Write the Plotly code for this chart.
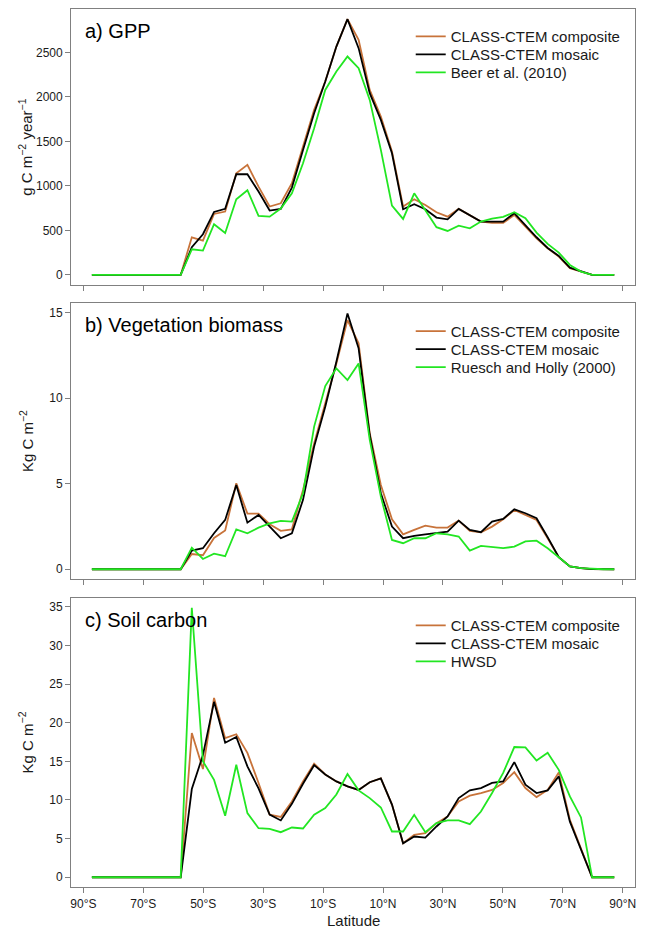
import plotly.graph_objects as go

# Gaussian-grid latitudes (south to north), degrees
LAT_N = [1.856, 5.567, 9.278, 12.989, 16.700, 20.411, 24.122, 27.833, 31.545, 35.256,
         38.967, 42.678, 46.389, 50.099, 53.810, 57.521, 61.232, 64.942, 68.652, 72.362,
         76.070, 79.777, 83.479, 87.159]
LAT = [-v for v in reversed(LAT_N)] + LAT_N

gpp_composite = [0, 0, 0, 0, 0, 0, 0, 0, 0, 423, 386, 685, 712, 1142, 1236, 992, 768, 805, 1030,
                 1442, 1854, 2172, 2565, 2872, 2640, 2078, 1779, 1386, 768, 850, 786, 704, 655,
                 742, 674, 599, 584, 584, 674, 543, 412, 300, 206, 75, 37, 0, 0, 0]
gpp_mosaic = [0, 0, 0, 0, 0, 0, 0, 0, 0, 311, 457, 708, 742, 1131, 1131, 936, 723, 742, 981,
              1404, 1816, 2172, 2565, 2872, 2547, 2041, 1741, 1367, 738, 794, 738, 644, 625,
              742, 674, 599, 599, 599, 693, 554, 423, 303, 213, 82, 37, 0, 0, 0]
gpp_beer = [0, 0, 0, 0, 0, 0, 0, 0, 0, 288, 273, 569, 472, 850, 951, 663, 655, 745, 917,
            1255, 1648, 2078, 2284, 2453, 2322, 1966, 1404, 779, 629, 917, 730, 536, 494,
            554, 524, 599, 633, 652, 704, 637, 476, 348, 251, 112, 37, 0, 0, 0]

veg_composite = [0, 0, 0, 0, 0, 0, 0, 0, 0, 0.89, 0.82, 1.83, 2.26, 5.02, 3.25, 3.25, 2.63, 2.24,
                 2.33, 4.63, 7.35, 9.69, 12.02, 14.55, 13.19, 7.94, 4.92, 2.92, 2.04, 2.30, 2.55,
                 2.43, 2.43, 2.84, 2.24, 2.16, 2.49, 2.92, 3.46, 3.17, 2.88, 1.81, 0.70, 0.16,
                 0.06, 0.01, 0, 0]
veg_mosaic = [0, 0, 0, 0, 0, 0, 0, 0, 0, 1.09, 1.23, 2.10, 2.88, 4.92, 2.72, 3.17, 2.49, 1.81,
              2.10, 4.05, 7.16, 9.49, 12.12, 14.94, 12.90, 7.84, 4.44, 2.49, 1.81, 1.95, 2.04,
              2.14, 2.20, 2.84, 2.30, 2.16, 2.78, 2.94, 3.50, 3.27, 2.98, 1.87, 0.70, 0.16,
              0.06, 0.01, 0, 0]
veg_ruesch = [0, 0, 0, 0, 0, 0, 0, 0, 0, 1.26, 0.60, 0.91, 0.76, 2.33, 2.10, 2.43, 2.68, 2.82,
              2.78, 4.44, 8.33, 10.70, 11.73, 11.05, 12.02, 7.55, 4.24, 1.71, 1.52, 1.81, 1.81,
              2.10, 2.04, 1.91, 1.09, 1.36, 1.30, 1.23, 1.32, 1.63, 1.67, 1.23, 0.70, 0.16,
              0.06, 0.01, 0, 0]

soil_composite = [0, 0, 0, 0, 0, 0, 0, 0, 0, 18.67, 14.0, 23.2, 18.0, 18.5, 16.1, 12.2, 8.1, 7.8,
                  9.8, 12.4, 14.7, 13.3, 12.4, 11.75, 11.3, 12.3, 12.8, 9.4, 4.4, 5.5, 5.7, 7.0,
                  7.87, 9.8, 10.55, 10.9, 11.3, 12.2, 13.6, 11.54, 10.37, 11.3, 13.57, 7.43,
                  3.76, 0, 0, 0]
soil_mosaic = [0, 0, 0, 0, 0, 0, 0, 0, 0, 11.41, 15.8, 22.7, 17.4, 18.15, 14.35, 11.5, 8.1, 7.35,
               9.5, 12.1, 14.5, 13.3, 12.4, 11.75, 11.3, 12.3, 12.8, 9.4, 4.4, 5.27, 5.14, 6.57,
               7.87, 10.24, 11.24, 11.54, 12.2, 12.4, 14.9, 11.97, 10.9, 11.24, 13.05, 7.2,
               3.54, 0, 0, 0]
soil_hwsd = [0, 0, 0, 0, 0, 0, 0, 0, 0, 34.87, 15.0, 12.6, 7.95, 14.56, 8.3, 6.35, 6.27, 5.83,
             6.44, 6.31, 8.08, 8.95, 10.7, 13.35, 11.24, 10.24, 9.03, 5.92, 5.92, 8.08, 5.83, 7.0,
             7.35, 7.35, 6.87, 8.51, 10.9, 13.5, 16.85, 16.8, 15.1, 16.1, 13.9, 10.46, 7.74,
             0, 0, 0]

x_tickvals = [-90, -70, -50, -30, -10, 10, 30, 50, 70, 90]
x_ticktext = ["90°S", "70°S", "50°S", "30°S", "10°S", "10°N", "30°N", "50°N", "70°N", "90°N"]

panel_titles = ["a) GPP", "b) Vegetation biomass", "c) Soil carbon"]
y_titles = ["g C m<sup>−2</sup> year<sup>−1</sup>", "Kg C m<sup>−2</sup>", "Kg C m<sup>−2</sup>"]
y_tickvals = [[0, 500, 1000, 1500, 2000, 2500], [0, 5, 10, 15], [0, 5, 10, 15, 20, 25, 30, 35]]
y_ranges = [[-113, 2990], [-0.57, 15.53], [-1.3, 36.17]]
series_names = [["CLASS-CTEM composite", "CLASS-CTEM mosaic", "Beer et al. (2010)"],
                ["CLASS-CTEM composite", "CLASS-CTEM mosaic", "Ruesch and Holly (2000)"],
                ["CLASS-CTEM composite", "CLASS-CTEM mosaic", "HWSD"]]
panel_data = [[gpp_composite, gpp_mosaic, gpp_beer],
              [veg_composite, veg_mosaic, veg_ruesch],
              [soil_composite, soil_mosaic, soil_hwsd]]
colors = ["#C8733A", "#000000", "#22E622"]

W, H = 645, 930
FONT = "Liberation Sans, Arial, Helvetica, sans-serif"
TXT = "#1a1a1a"
FRAME = "#808080"

# panel pixel boxes (top, bottom) and horizontal extent
panels_px = [(8.7, 285.0), (303.3, 579.0), (597.7, 887.3)]
left_px, right_px = 70.3, 636.0


def py(p):
    return 1 - p / H


def px(p):
    return p / W


fig = go.Figure()
layout = dict(
    width=W, height=H, margin=dict(l=0, r=0, t=0, b=0),
    paper_bgcolor="white", plot_bgcolor="white",
    font=dict(family=FONT, color=TXT),
    annotations=[],
)

leg_idx = 0
for k in range(3):
    top, bot = panels_px[k]
    sfx = "" if k == 0 else str(k + 1)
    for j in range(3):
        leg_idx += 1
        lname = "legend" if leg_idx == 1 else f"legend{leg_idx}"
        fig.add_trace(go.Scatter(
            x=LAT, y=panel_data[k][j], mode="lines", name=series_names[k][j],
            line=dict(color=colors[j], width=1.8),
            xaxis="x" + sfx, yaxis="y" + sfx, legend=lname, showlegend=True,
        ))
        layout[lname] = dict(
            x=px(411), xanchor="left", y=py(top + 28 + 18 * j), yanchor="middle",
            bgcolor="rgba(0,0,0,0)", borderwidth=0,
            font=dict(family=FONT, size=15, color=TXT),
        )
    layout["xaxis" + sfx] = dict(
        domain=[px(left_px), px(right_px)], range=[-94.1, 94.1], anchor="y" + sfx,
        tickmode="array", tickvals=x_tickvals, ticktext=x_ticktext,
        showticklabels=(k == 2), ticks="outside", ticklen=5, tickcolor=FRAME, tickwidth=1,
        showline=True, linecolor=FRAME, linewidth=1, mirror=True,
        showgrid=False, zeroline=False, tickfont=dict(size=12, color=TXT, family=FONT),
    )
    layout["yaxis" + sfx] = dict(
        domain=[py(bot), py(top)], range=y_ranges[k], anchor="x" + sfx,
        tickmode="array", tickvals=y_tickvals[k],
        ticks="outside", ticklen=5, tickcolor=FRAME, tickwidth=1,
        showline=True, linecolor=FRAME, linewidth=1, mirror=True,
        showgrid=False, zeroline=False, tickfont=dict(size=12, color=TXT, family=FONT),
    )
    layout["annotations"].append(dict(
        text=panel_titles[k], xref="paper", yref="paper", x=px(82), y=py(top + 22),
        xanchor="left", yanchor="middle", showarrow=False,
        font=dict(family=FONT, size=20, color="#000000"),
    ))
    layout["annotations"].append(dict(
        text=y_titles[k], xref="paper", yref="paper", x=px(25), y=py((top + bot) / 2),
        xanchor="center", yanchor="middle", showarrow=False, textangle=-90,
        font=dict(family=FONT, size=15, color=TXT),
    ))

layout["annotations"].append(dict(
    text="Latitude", xref="paper", yref="paper", x=px((left_px + right_px) / 2), y=py(920),
    xanchor="center", yanchor="middle", showarrow=False,
    font=dict(family=FONT, size=15, color=TXT),
))

fig.update_layout(**layout)
fig.write_html("out.html")
